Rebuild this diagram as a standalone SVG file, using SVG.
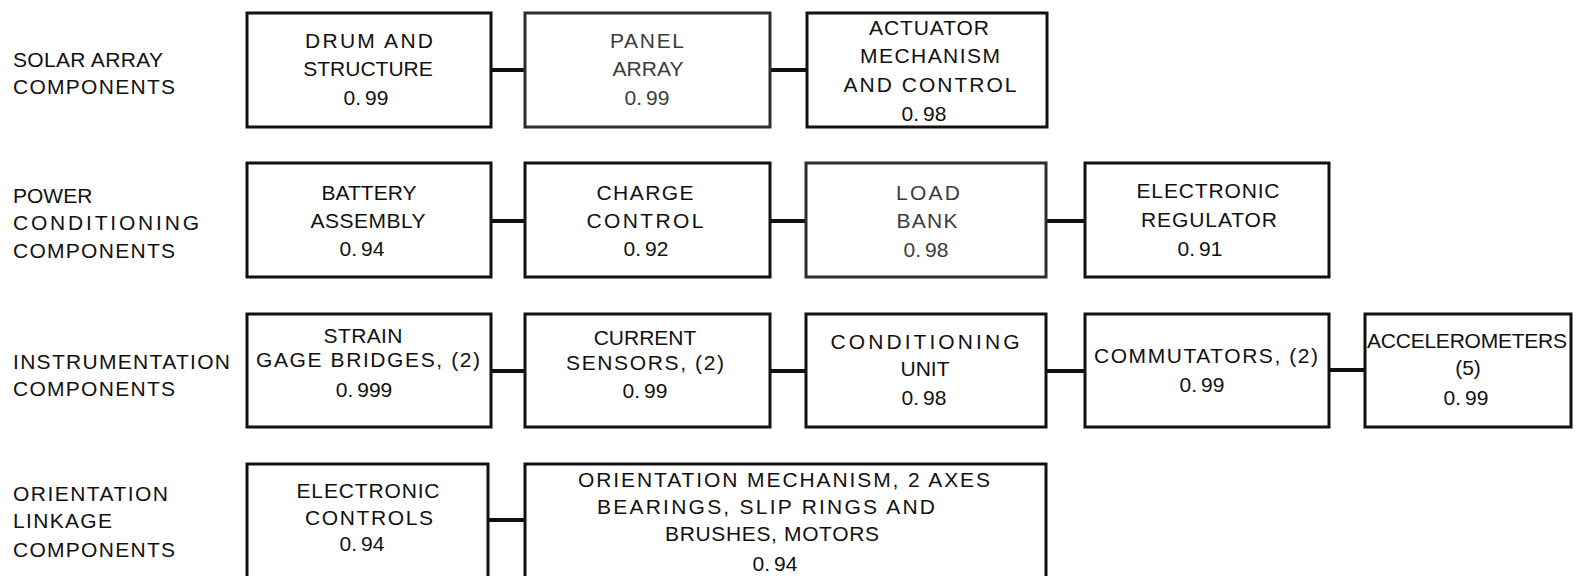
<svg xmlns="http://www.w3.org/2000/svg" width="1582" height="576" viewBox="0 0 1582 576">
<style>
  text { font-family: "Liberation Sans", Arial, sans-serif; font-size: 21px; fill: #111; }
  .c { text-anchor: middle; }
  .box { fill: #fff; stroke: #111; stroke-width: 3; }
  .open { fill: none; stroke: #111; stroke-width: 3; }
  .faint .box { stroke: #2e2e2e; }
  .faint text { fill: #3c3c3c; }
  .conn line { stroke: #111; stroke-width: 4; }
</style>
<rect width="1582" height="576" fill="#fff"/>

<g id="row-labels">
  <text x="13" y="67" textLength="150" lengthAdjust="spacing">SOLAR ARRAY</text>
  <text x="13" y="94" textLength="162" lengthAdjust="spacing">COMPONENTS</text>
  <text x="13" y="203">POWER</text>
  <text x="13" y="230" textLength="186" lengthAdjust="spacing">CONDITIONING</text>
  <text x="13" y="258" textLength="162" lengthAdjust="spacing">COMPONENTS</text>
  <text x="13" y="369" textLength="217" lengthAdjust="spacing">INSTRUMENTATION</text>
  <text x="13" y="396" textLength="162" lengthAdjust="spacing">COMPONENTS</text>
  <text x="13" y="501" textLength="155" lengthAdjust="spacing">ORIENTATION</text>
  <text x="13" y="528" textLength="99" lengthAdjust="spacing">LINKAGE</text>
  <text x="13" y="557" textLength="162" lengthAdjust="spacing">COMPONENTS</text>
</g>

<g id="connectors" class="conn">
  <line x1="491" y1="70" x2="525" y2="70"/>
  <line x1="770" y1="70" x2="807" y2="70"/>
  <line x1="491" y1="221" x2="525" y2="221"/>
  <line x1="770" y1="221" x2="806" y2="221"/>
  <line x1="1046" y1="221" x2="1085" y2="221"/>
  <line x1="491" y1="371" x2="525" y2="371"/>
  <line x1="770" y1="371" x2="806" y2="371"/>
  <line x1="1046" y1="371" x2="1085" y2="371"/>
  <line x1="1329" y1="370" x2="1365" y2="370"/>
  <line x1="488" y1="520" x2="525" y2="520"/>
</g>

<g id="drum-and-structure">
  <rect class="box" x="247" y="13" width="244" height="114"/>
  <text class="c" x="369" y="48" textLength="128" lengthAdjust="spacing">DRUM AND</text>
  <text class="c" x="368" y="76">STRUCTURE</text>
  <text class="c" x="366" y="105">0.<tspan dx="4">99</tspan></text>
</g>

<g id="panel-array" class="faint">
  <rect class="box" x="525" y="13" width="245" height="114"/>
  <text class="c" x="647" y="48" textLength="74" lengthAdjust="spacing">PANEL</text>
  <text class="c" x="648" y="76">ARRAY</text>
  <text class="c" x="647" y="105">0.<tspan dx="4">99</tspan></text>
</g>

<g id="actuator-mechanism">
  <rect class="box" x="807" y="13" width="240" height="114"/>
  <text class="c" x="929" y="35" textLength="120" lengthAdjust="spacing">ACTUATOR</text>
  <text class="c" x="930" y="63" textLength="140" lengthAdjust="spacing">MECHANISM</text>
  <text class="c" x="930" y="92" textLength="173" lengthAdjust="spacing">AND CONTROL</text>
  <text class="c" x="924" y="121">0.<tspan dx="4">98</tspan></text>
</g>

<g id="battery-assembly">
  <rect class="box" x="247" y="163" width="244" height="114"/>
  <text class="c" x="369" y="200">BATTERY</text>
  <text class="c" x="368" y="228" textLength="115" lengthAdjust="spacing">ASSEMBLY</text>
  <text class="c" x="362" y="256">0.<tspan dx="4">94</tspan></text>
</g>

<g id="charge-control">
  <rect class="box" x="525" y="163" width="245" height="114"/>
  <text class="c" x="645" y="200" textLength="97" lengthAdjust="spacing">CHARGE</text>
  <text class="c" x="645" y="228" textLength="117" lengthAdjust="spacing">CONTROL</text>
  <text class="c" x="646" y="256">0.<tspan dx="4">92</tspan></text>
</g>

<g id="load-bank" class="faint">
  <rect class="box" x="806" y="163" width="240" height="114"/>
  <text class="c" x="928" y="200" textLength="64" lengthAdjust="spacing">LOAD</text>
  <text class="c" x="927" y="228" textLength="61" lengthAdjust="spacing">BANK</text>
  <text class="c" x="926" y="257">0.<tspan dx="4">98</tspan></text>
</g>

<g id="electronic-regulator">
  <rect class="box" x="1085" y="163" width="244" height="114"/>
  <text class="c" x="1208" y="198" textLength="143" lengthAdjust="spacing">ELECTRONIC</text>
  <text class="c" x="1209" y="227" textLength="136" lengthAdjust="spacing">REGULATOR</text>
  <text class="c" x="1200" y="256">0.<tspan dx="4">91</tspan></text>
</g>

<g id="strain-gage-bridges">
  <rect class="box" x="247" y="314" width="244" height="113"/>
  <text class="c" x="363" y="343" textLength="79" lengthAdjust="spacing">STRAIN</text>
  <text class="c" x="368" y="367" textLength="224" lengthAdjust="spacing">GAGE BRIDGES, (2)</text>
  <text class="c" x="364" y="397">0.<tspan dx="4">999</tspan></text>
</g>

<g id="current-sensors">
  <rect class="box" x="525" y="314" width="245" height="113"/>
  <text class="c" x="645" y="345">CURRENT</text>
  <text class="c" x="645" y="370" textLength="158" lengthAdjust="spacing">SENSORS, (2)</text>
  <text class="c" x="645" y="398">0.<tspan dx="4">99</tspan></text>
</g>

<g id="conditioning-unit">
  <rect class="box" x="806" y="314" width="240" height="113"/>
  <text class="c" x="925" y="349" textLength="189" lengthAdjust="spacing">CONDITIONING</text>
  <text class="c" x="925" y="376">UNIT</text>
  <text class="c" x="924" y="405">0.<tspan dx="4">98</tspan></text>
</g>

<g id="commutators">
  <rect class="box" x="1085" y="314" width="244" height="113"/>
  <text class="c" x="1206" y="363" textLength="224" lengthAdjust="spacing">COMMUTATORS, (2)</text>
  <text class="c" x="1202" y="392">0.<tspan dx="4">99</tspan></text>
</g>

<g id="accelerometers">
  <rect class="box" x="1365" y="314" width="206" height="113"/>
  <text class="c" x="1467" y="348" textLength="200" lengthAdjust="spacing">ACCELEROMETERS</text>
  <text class="c" x="1468" y="375">(5)</text>
  <text class="c" x="1466" y="405">0.<tspan dx="4">99</tspan></text>
</g>

<g id="electronic-controls">
  <path class="open" d="M247,576 V464 H488 V576"/>
  <text class="c" x="368" y="498" textLength="143" lengthAdjust="spacing">ELECTRONIC</text>
  <text class="c" x="369" y="525" textLength="128" lengthAdjust="spacing">CONTROLS</text>
  <text class="c" x="362" y="551">0.<tspan dx="4">94</tspan></text>
</g>

<g id="orientation-mechanism">
  <path class="open" d="M525,576 V464 H1046 V576"/>
  <text class="c" x="784" y="487" textLength="412" lengthAdjust="spacing">ORIENTATION MECHANISM, 2 AXES</text>
  <text class="c" x="766" y="514" textLength="338" lengthAdjust="spacing">BEARINGS, SLIP RINGS AND</text>
  <text class="c" x="772" y="541" textLength="214" lengthAdjust="spacing">BRUSHES, MOTORS</text>
  <text class="c" x="775" y="571">0.<tspan dx="4">94</tspan></text>
</g>
</svg>
